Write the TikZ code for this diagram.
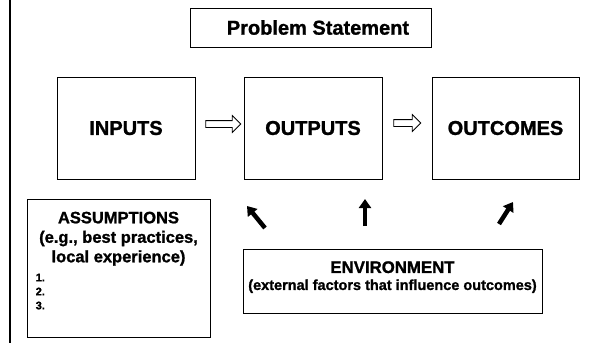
\documentclass[tikz,border=0pt]{standalone}
\usepackage{fontspec}
\setmainfont{Liberation Sans}[BoldFeatures={FakeBold=1.2}]
\usetikzlibrary{calc, shapes.arrows, arrows.meta}

\begin{document}
\begin{tikzpicture}[x=1pt, y=-1pt,
    plainbox/.style={draw, line width=0.9pt, inner sep=0pt},
    bigtext/.style={font=\fontsize{20}{24}\selectfont\bfseries},
    midtext/.style={font=\fontsize{16.5}{19.5}\selectfont\bfseries, inner sep=0pt},
    smalltext/.style={font=\fontsize{11}{14}\selectfont\bfseries, inner sep=0pt},
    openarrow/.style={single arrow, draw, line width=0.8pt, inner sep=3pt,
        single arrow head extend=5pt},
    boldarrow/.style={line width=4.5pt, -{Triangle[length=9pt, width=12pt]}}]
    \useasboundingbox (0,0) rectangle (592,343);
    \draw[line width=2pt] (10,0) -- (10,343);
    \node[plainbox, bigtext, minimum width=241pt, minimum height=39pt] (prob) at (310.5,27.5) {\hspace{15pt}Problem Statement};
    \node[plainbox, bigtext, minimum width=138pt, minimum height=102pt] (inputs) at (126,128) {INPUTS};
    \node[plainbox, bigtext, minimum width=138pt, minimum height=102pt] (outputs) at (313,128) {OUTPUTS};
    \node[plainbox, bigtext, minimum width=147pt, minimum height=102pt] (outcomes) at (505.5,128) {OUTCOMES};
    \node[openarrow, minimum height=35pt] (flow1) at ($(inputs.east)!0.5!(outputs.west)+(2,-4)$) {};
    \node[openarrow, minimum height=27pt] (flow2) at ($(outputs.east)!0.5!(outcomes.west)+(-1.5,-5)$) {};
    \node[plainbox, minimum width=183pt, minimum height=138pt] (assum) at (118.5,268) {};
    \node[midtext, align=center, anchor=north] (assumhead) at ([yshift=-13pt]assum.north) {ASSUMPTIONS\\(e.g., best practices,\\local experience)};
    \node[smalltext, align=left, anchor=north west] (assumlist) at ([xshift=9pt, yshift=-75pt]assum.north west) {1.\\2.\\3.};
    \node[plainbox, minimum width=299pt, minimum height=64pt] (env) at (392.5,281) {};
    \node[align=center, anchor=north, inner sep=0pt, font=\fontsize{14.5}{17}\selectfont\bfseries] (envtext) at ([yshift=-12.5pt]env.north) {{\fontsize{16.8}{17}\selectfont ENVIRONMENT}\\(external factors that influence outcomes)};
    \coordinate (env1) at (265,228); \coordinate (out1) at (247,206);
    \coordinate (env2) at (365,226); \coordinate (out2) at (365,199);
    \coordinate (env3) at (499,224); \coordinate (out3) at (513,202);
    \draw[boldarrow] (env1) -- (out1);
    \draw[boldarrow] (env2) -- (out2);
    \draw[boldarrow] (env3) -- (out3);
\end{tikzpicture}
\end{document}
